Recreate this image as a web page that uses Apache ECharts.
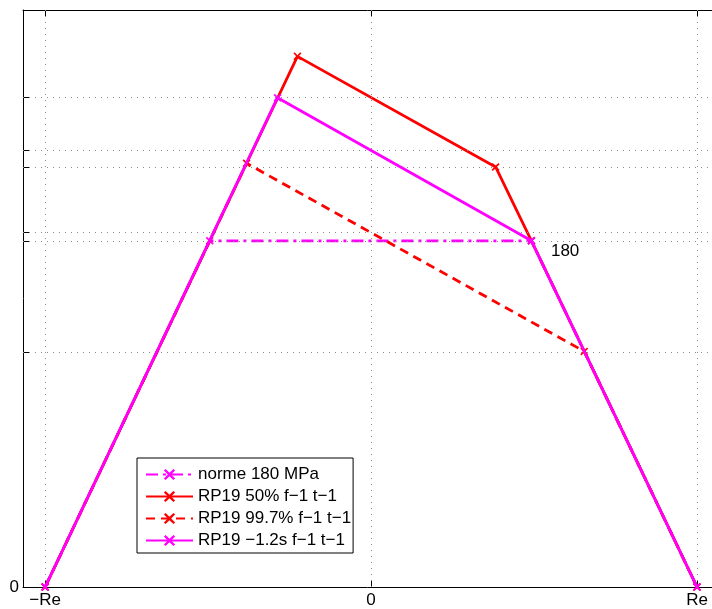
<!DOCTYPE html>
<html>
<head>
<meta charset="utf-8">
<script src="https://cdn.jsdelivr.net/npm/echarts@6/dist/echarts.min.js"></script>
<style>html,body{margin:0;padding:0;background:#fff}#c{width:712px;height:609px}</style>
</head>
<body>
<div id="c"></div>
<script>
// x values in units of Re, y values in MPa
const seriesNames = ['norme 180 MPa', 'RP19 50% f\u22121 t\u22121', 'RP19 99.7% f\u22121 t\u22121', 'RP19 \u22121.2s f\u22121 t\u22121'];
const normeX = [-1, -0.495, 0.492, 1];
const normeY = [0, 180, 180, 0];
const rp50X = [-1, -0.226, 0.382, 0.492, 1];
const rp50Y = [0, 275.9, 218.4, 180, 0];
const rp997X = [-1, -0.382, 0.654, 1];
const rp997Y = [0, 220.3, 122.5, 0];
const rp12X = [-1, -0.287, 0.492, 1];
const rp12Y = [0, 254.4, 180, 0];
const xTickVals = [-1, 0, 1];
const xTickLabels = ['\u2212Re', '0', 'Re'];
const yTickVals = [0, 122.3, 180, 184.5, 218.4, 227, 254.8];
const yLabelVals = [0];
const annotX = 0.492, annotY = 180, annotText = '180';

const zip = (xs, ys) => xs.map((x, i) => [x, ys[i]]);
const FONT = "'Liberation Sans', Arial, Helvetica, sans-serif";
const XSYM = 'path://M0,1.5L1.5,0L5,3.5L8.5,0L10,1.5L6.5,5L10,8.5L8.5,10L5,6.5L1.5,10L0,8.5L3.5,5Z';
const gridLine = {color: '#8a8a8a', width: 1, type: [1, 5]};
const FS = 17;

const chart = echarts.init(document.getElementById('c'), null, {renderer: 'canvas'});
const xMin = -1.068, xMax = 1.046;
chart.setOption({
  animation: false,
  textStyle: {fontFamily: FONT},
  grid: {left: 23, right: -2, top: 10, bottom: 21, containLabel: false},
  xAxis: [{
    type: 'value', min: xMin, max: xMax, position: 'bottom',
    axisLine: {show: true, onZero: false, lineStyle: {color: '#000', width: 1}},
    axisTick: {show: true, inside: true, length: 7, customValues: xTickVals, lineStyle: {color: '#000'}},
    axisLabel: {show: true, customValues: xTickVals, margin: 5, fontSize: FS, color: '#000', fontFamily: FONT,
      formatter: v => { const i = xTickVals.findIndex(t => Math.abs(t - v) < 1e-6); return i >= 0 ? xTickLabels[i] : ''; }},
    splitLine: {show: false}
  }, {
    type: 'value', min: xMin, max: xMax, position: 'top',
    axisLine: {show: true, onZero: false, lineStyle: {color: '#000', width: 1}},
    axisTick: {show: true, inside: true, length: 7, customValues: xTickVals, lineStyle: {color: '#000'}},
    axisLabel: {show: false}, splitLine: {show: false}
  }],
  yAxis: {
    type: 'value', min: 0, max: 300,
    axisLine: {show: true, onZero: false, lineStyle: {color: '#000', width: 1}},
    axisTick: {show: true, inside: true, length: 7, customValues: yTickVals, lineStyle: {color: '#000'}},
    axisLabel: {show: true, customValues: yLabelVals, margin: 4, fontSize: FS, color: '#000', fontFamily: FONT},
    splitLine: {show: false}
  },
  legend: {
    data: seriesNames, orient: 'vertical', left: 137, top: 458,
    backgroundColor: '#fff', borderColor: '#000', borderWidth: 1,
    padding: [8, 2, 4, 8], itemWidth: 47, itemHeight: 14, itemGap: 5,
    textStyle: {fontSize: FS, lineHeight: 17, color: '#000', fontFamily: FONT}
  },
  series: [
    {type: 'line', name: '_grid', data: [], silent: true, z: 1,
     markLine: {silent: true, symbol: 'none', label: {show: false}, lineStyle: gridLine, animation: false,
       data: yTickVals.filter(v => v > 0).map(v => ({yAxis: v})).concat(xTickVals.map(v => ({xAxis: v})))}},
    {type: 'line', name: seriesNames[0], data: zip(normeX, normeY), z: 3,
     symbol: XSYM, symbolSize: 8, itemStyle: {color: '#ff00ff'},
     lineStyle: {color: '#ff00ff', width: 2.8, type: [12, 5, 3, 5]},
     markPoint: {symbol: 'circle', symbolSize: 1, itemStyle: {color: 'rgba(0,0,0,0)'},
       label: {show: true, position: 'right', distance: 0, offset: [19, 11], formatter: annotText, fontSize: FS, color: '#000', fontFamily: FONT},
       data: [{coord: [annotX, annotY]}]}},
    {type: 'line', name: seriesNames[1], data: zip(rp50X, rp50Y), z: 4,
     symbol: XSYM, symbolSize: 8, itemStyle: {color: '#ff0000'},
     lineStyle: {color: '#ff0000', width: 2.8, type: 'solid'}},
    {type: 'line', name: seriesNames[2], data: zip(rp997X, rp997Y), z: 5,
     symbol: XSYM, symbolSize: 8, itemStyle: {color: '#ff0000'},
     lineStyle: {color: '#ff0000', width: 2.8, type: [9, 6]}},
    {type: 'line', name: seriesNames[3], data: zip(rp12X, rp12Y), z: 6,
     symbol: XSYM, symbolSize: 8, itemStyle: {color: '#ff00ff'},
     lineStyle: {color: '#ff00ff', width: 2.8, type: 'solid'}}
  ]
});
</script>
</body>
</html>
